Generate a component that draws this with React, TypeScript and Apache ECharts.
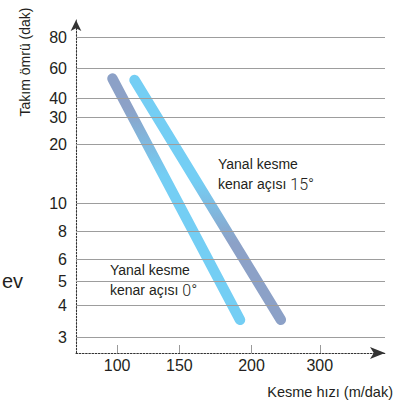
import React, { useEffect, useRef } from "react";
import * as echarts from "echarts";

// Tick values printed on each axis
const speedTicks = [100, 150, 200, 300];
const lifeTicks = [3, 4, 5, 6, 8, 10, 20, 30, 40, 60, 80];

// Tool-life lines (cutting speed m/dak, tool life dak) for each side rake angle
const rake0Speed = [97, 191];
const rake0Life = [52, 3.5];
const rake15Speed = [112, 238];
const rake15Life = [51, 3.5];

// The printed nomogram scale is irregular: axis units at which each tick sits
const speedStops = [41, 103, 175, 243];
const lifeStops = [16, 48, 72, 94, 122, 150, 209, 236, 255, 285, 316];

const FONT = "'Liberation Sans', Arial, Helvetica, sans-serif";
const INK = "#231f20";
const GREY_BLUE = "#8ca1c7";
const CYAN = "#74cef4";

// Log-interpolate a value between neighbouring ticks of the printed scale
function toScale(v: number, ticks: number[], stops: number[]): number {
  let i = 0;
  if (v >= ticks[ticks.length - 1]) i = ticks.length - 2;
  else if (v > ticks[0]) {
    while (v > ticks[i + 1]) i++;
  }
  const l0 = Math.log(ticks[i]);
  const l1 = Math.log(ticks[i + 1]);
  return stops[i] + ((Math.log(v) - l0) / (l1 - l0)) * (stops[i + 1] - stops[i]);
}

const labelAt = (ticks: number[], stops: number[]) => (p: number) => {
  const i = stops.findIndex((s) => Math.abs(s - p) < 1e-6);
  return i >= 0 ? String(ticks[i]) : "";
};

function linePoints(speeds: number[], lives: number[]) {
  return speeds.map((s, i) => [toScale(s, speedTicks, speedStops), toScale(lives[i], lifeTicks, lifeStops)]);
}

function buildOption(): echarts.EChartsCoreOption {
  const axisLineStyle = { color: "#333333", width: 1.1, type: [1.6, 1.6] as number[] };
  return {
    animation: false,
    grid: { left: 76, right: 24, top: 20, bottom: 53 },
    xAxis: {
      type: "value",
      min: 0,
      max: 308,
      axisLine: {
        show: true,
        onZero: false,
        symbol: ["none", "arrow"],
        symbolSize: [9, 15],
        lineStyle: axisLineStyle,
      },
      axisTick: {
        show: true,
        inside: true,
        length: 8,
        customValues: speedStops,
        lineStyle: { color: "#9a9a9a", width: 1 },
      },
      axisLabel: {
        customValues: speedStops,
        formatter: labelAt(speedTicks, speedStops),
        fontSize: 16,
        color: INK,
        margin: 4,
        fontFamily: FONT,
      },
      splitLine: { show: false },
    },
    yAxis: {
      type: "value",
      min: 0,
      max: 333,
      axisLine: {
        show: true,
        onZero: false,
        symbol: ["none", "arrow"],
        symbolSize: [8, 11],
        lineStyle: axisLineStyle,
      },
      axisTick: { show: false },
      axisLabel: {
        customValues: lifeStops,
        formatter: labelAt(lifeTicks, lifeStops),
        fontSize: 16,
        color: INK,
        margin: 9,
        fontFamily: FONT,
      },
      splitLine: { show: false },
    },
    series: [
      {
        // horizontal rules at every tool-life tick
        type: "line",
        z: 1,
        data: [],
        silent: true,
        markLine: {
          silent: true,
          symbol: ["none", "none"],
          label: { show: false },
          lineStyle: { color: "#9d9d9d", width: 1, type: "solid" },
          emphasis: { disabled: true },
          data: lifeStops.map((p) => ({ yAxis: p })),
        },
      },
      {
        name: "Yanal kesme kenar açısı 0°",
        type: "line",
        z: 3,
        silent: true,
        showSymbol: false,
        symbol: "none",
        data: linePoints(rake0Speed, rake0Life),
        lineStyle: {
          width: 10.5,
          cap: "round",
          color: new echarts.graphic.LinearGradient(0, 0, 0, 1, [
            { offset: 0, color: GREY_BLUE },
            { offset: 0.12, color: GREY_BLUE },
            { offset: 0.4, color: CYAN },
            { offset: 1, color: CYAN },
          ]),
        },
      },
      {
        name: "Yanal kesme kenar açısı 15°",
        type: "line",
        z: 3,
        silent: true,
        showSymbol: false,
        symbol: "none",
        data: linePoints(rake15Speed, rake15Life),
        lineStyle: {
          width: 10.5,
          cap: "round",
          color: new echarts.graphic.LinearGradient(0, 0, 0, 1, [
            { offset: 0, color: CYAN },
            { offset: 0.42, color: CYAN },
            { offset: 0.68, color: GREY_BLUE },
            { offset: 1, color: GREY_BLUE },
          ]),
        },
      },
    ],
    graphic: [
      {
        type: "text",
        x: 25,
        y: 62,
        rotation: Math.PI / 2,
        style: {
          text: "Takım ömrü (dak)",
          align: "center",
          verticalAlign: "middle",
          fontSize: 14,
          fontFamily: FONT,
          fill: INK,
        },
      },
      {
        type: "text",
        x: 23,
        y: 281,
        style: {
          text: "ev",
          align: "right",
          verticalAlign: "middle",
          fontSize: 20,
          fontFamily: FONT,
          fill: INK,
        },
      },
      {
        type: "text",
        x: 393,
        y: 392,
        style: {
          text: "Kesme hızı (m/dak)",
          align: "right",
          verticalAlign: "middle",
          fontSize: 14.5,
          fontFamily: FONT,
          fill: INK,
        },
      },
      {
        type: "text",
        x: 218,
        y: 154,
        style: {
          text: "Yanal kesme\nkenar açısı {n|15°}",
          align: "left",
          verticalAlign: "top",
          fontSize: 14,
          lineHeight: 20,
          fontFamily: FONT,
          fill: INK,
          rich: {
            n: { fontSize: 16, fontFamily: "Roboto", fontWeight: 300, fill: INK, lineHeight: 20 },
          },
        },
      },
      {
        type: "text",
        x: 110,
        y: 260,
        style: {
          text: "Yanal kesme\nkenar açısı {n|0°}",
          align: "left",
          verticalAlign: "top",
          fontSize: 14,
          lineHeight: 20,
          fontFamily: FONT,
          fill: INK,
          rich: {
            n: { fontSize: 16, fontFamily: "Roboto", fontWeight: 300, fill: INK, lineHeight: 20 },
          },
        },
      },
    ],
  };
}

export default function App() {
  const ref = useRef<HTMLDivElement>(null);
  useEffect(() => {
    if (!ref.current) return;
    const chart = echarts.init(ref.current, null, { renderer: "svg" });
    chart.setOption(buildOption());
    return () => chart.dispose();
  }, []);
  return (
    <div
      ref={ref}
      style={{ position: "absolute", left: 0, top: 0, width: 409, height: 406, background: "#ffffff" }}
    />
  );
}
